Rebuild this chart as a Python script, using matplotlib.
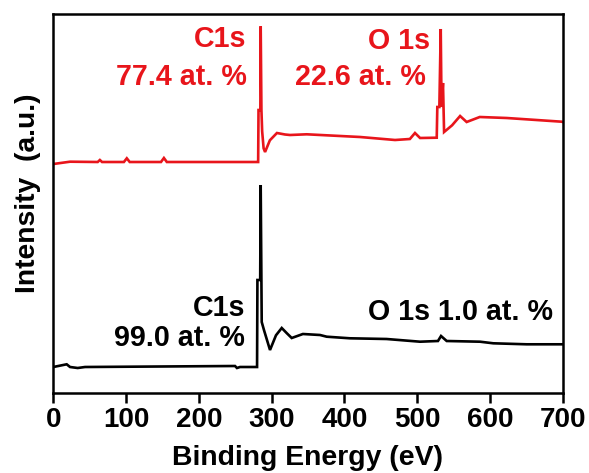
import matplotlib
matplotlib.use("Agg")
import matplotlib.pyplot as plt

plt.rcParams['font.family'] = ['Liberation Sans', 'DejaVu Sans']
plt.rcParams['font.weight'] = 'bold'

# Red spectrum (upper trace), binding energy (eV) and intensity (a.u.)
red_be = [0, 23, 61, 64, 67, 97, 101, 105, 148, 152, 156, 279.5, 281.5,
          282, 283.5, 284.5, 285, 286, 287, 289, 291, 297.6, 307.3, 318.4,
          325.3, 348.2, 421.5, 469.6, 490, 497, 504, 526.9, 527.7, 530.5,
          532.4, 533.5, 535.5, 537, 548, 559, 568, 586, 623, 664, 698.6, 700]
red_int = [229.3, 231.6, 231.3, 233.3, 231.3, 231.3, 235, 231.3, 231.3, 235.3,
           231.3, 231.3, 231.3, 283.3, 283.3, 283.3, 367, 283.3, 262, 245,
           241.3, 253, 260.3, 258.8, 258.3, 259, 256.3, 253.3, 254.3, 260.3,
           255.3, 255.6, 286.3, 286.3, 364.3, 286.3, 310.3, 261.3, 268, 277.3,
           271.3, 276.3, 275.3, 273.3, 271.6, 271.3]

# Black spectrum (lower trace)
black_be = [0, 18.4, 23, 33.5, 43.6, 249.7, 252.4, 256.6, 280, 280.5, 284.3,
            285, 286.4, 289.6, 297.8, 306, 313.9, 321, 327.6, 343, 366.5,
            375.7, 407.7, 458, 504, 528.6, 532.8, 540.6, 586.4, 604.6, 650.5,
            698.6, 700]
black_int = [26.3, 29, 26.3, 25.3, 26.3, 27.3, 25.3, 26.3, 26.3, 113.3, 113.3,
             208.3, 71.3, 63, 43.3, 58, 65.3, 60, 55.3, 59.3, 58.3, 56.6, 55,
             54.3, 51.6, 52.3, 57.3, 52.3, 51.6, 50, 49, 49, 49]

x_ticks = [0, 100, 200, 300, 400, 500, 600, 700]

red = '#e8151b'

fig = plt.figure(figsize=(5.89, 4.73), dpi=100)
ax = fig.add_axes([53.3 / 589, 1 - 393.3 / 473, 509.4 / 589, 379 / 473])

ax.plot(red_be, red_int, color=red, lw=1.9, solid_joinstyle='miter')
ax.plot(black_be, black_int, color='black', lw=1.9, solid_joinstyle='miter')

ax.set_xlim(0, 700)
ax.set_ylim(0, 379)
ax.set_xticks(x_ticks)
ax.set_xticklabels([str(t) for t in x_ticks])
ax.set_yticks([])
ax.tick_params(axis='x', direction='out', length=7, width=1.8, pad=3,
               labelsize=20)
for lab in ax.get_xticklabels():
    lab.set_fontweight('bold')
for sp in ax.spines.values():
    sp.set_linewidth(1.8)

ax.set_xlabel('Binding Energy (eV)', fontsize=20.4, fontweight='bold')
ax.xaxis.set_label_coords(0.5, -0.172)
ax.xaxis.label.set_va('center')
ax.set_ylabel('Intensity  (a.u.)', fontsize=20.3, fontweight='bold')
ax.yaxis.set_label_coords(-0.0497, 0.527)
ax.yaxis.label.set_va('center')

fs = 20.6
ax.text(265.8, 354.3, 'C1s', color=red, fontsize=fs, fontweight='bold', ha='right', va='center')
ax.text(265.8, 316.6, '77.4 at. %', color=red, fontsize=fs, fontweight='bold', ha='right', va='center')
ax.text(517.7, 352.6, 'O 1s', color=red, fontsize=fs, fontweight='bold', ha='right', va='center')
ax.text(511.8, 316.6, '22.6 at. %', color=red, fontsize=fs, fontweight='bold', ha='right', va='center')
ax.text(263.4, 85.3, 'C1s', color='black', fontsize=fs, fontweight='bold', ha='right', va='center')
ax.text(263.4, 55, '99.0 at. %', color='black', fontsize=fs, fontweight='bold', ha='right', va='center')
ax.text(687.1, 81.6, 'O 1s 1.0 at. %', color='black', fontsize=fs, fontweight='bold', ha='right', va='center')

fig.savefig('out.png', dpi=100)
